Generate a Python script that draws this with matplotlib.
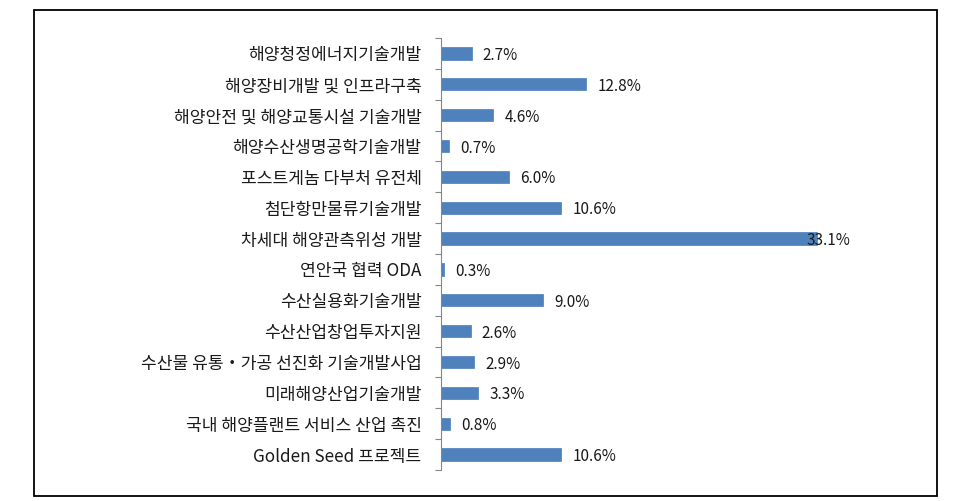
import matplotlib
matplotlib.use("Agg")
import matplotlib.pyplot as plt
from matplotlib.patches import Rectangle
import numpy as np

plt.rcParams['font.family'] = ['Noto Sans CJK KR', 'DejaVu Sans']

categories = [
    "해양청정에너지기술개발",
    "해양장비개발 및 인프라구축",
    "해양안전 및 해양교통시설 기술개발",
    "해양수산생명공학기술개발",
    "포스트게놈 다부처 유전체",
    "첨단항만물류기술개발",
    "차세대 해양관측위성 개발",
    "연안국 협력 ODA",
    "수산실용화기술개발",
    "수산산업창업투자지원",
    "수산물 유통・가공 선진화 기술개발사업",
    "미래해양산업기술개발",
    "국내 해양플랜트 서비스 산업 촉진",
    "Golden Seed 프로젝트",
]
values = [2.7, 12.8, 4.6, 0.7, 6.0, 10.6, 33.1, 0.3, 9.0, 2.6, 2.9, 3.3, 0.8, 10.6]
value_labels = ["2.7%", "12.8%", "4.6%", "0.7%", "6.0%", "10.6%", "33.1%", "0.3%",
                "9.0%", "2.6%", "2.9%", "3.3%", "0.8%", "10.6%"]

W, H = 956, 501
fig = plt.figure(figsize=(W / 100, H / 100), dpi=100)

# outer border
fig.patches.append(Rectangle((34 / W, 1 - 495.5 / H), (937 - 34) / W, (495.5 - 9.5) / H,
                             transform=fig.transFigure, fill=False, edgecolor='black',
                             linewidth=1.3))

left, right = 441, 895
top, bottom = 38, 470
ax = fig.add_axes([left / W, 1 - bottom / H, (right - left) / W, (bottom - top) / H])

n = len(categories)
y = np.arange(n)
ax.barh(y, values, height=0.4, color='#4F81BD', edgecolor='#4A7EBB', linewidth=0.5)
ax.set_ylim(n - 0.5, -0.5)
ax.set_xlim(0, 40)

ax.set_yticks(y)
ax.set_yticklabels(categories, fontsize=12.3, color='#1a1a1a')
ax.tick_params(axis='y', which='major', length=0, pad=14)
ax.set_yticks(np.arange(n + 1) - 0.5, minor=True)
ax.tick_params(axis='y', which='minor', length=4, width=0.8, color='#868686')
ax.set_xticks([])

for s in ['top', 'right', 'bottom']:
    ax.spines[s].set_visible(False)
ax.spines['left'].set_color('#868686')
ax.spines['left'].set_linewidth(0.8)

vmax = max(values)
for yi, v, lab in zip(y, values, value_labels):
    off = -7 if v == vmax else 8
    ax.annotate(lab, (v, yi), xytext=(off, -1.5), textcoords='offset points',
                va='center', ha='left', fontsize=11, color='#1a1a1a')

fig.savefig('out.png', dpi=100)
